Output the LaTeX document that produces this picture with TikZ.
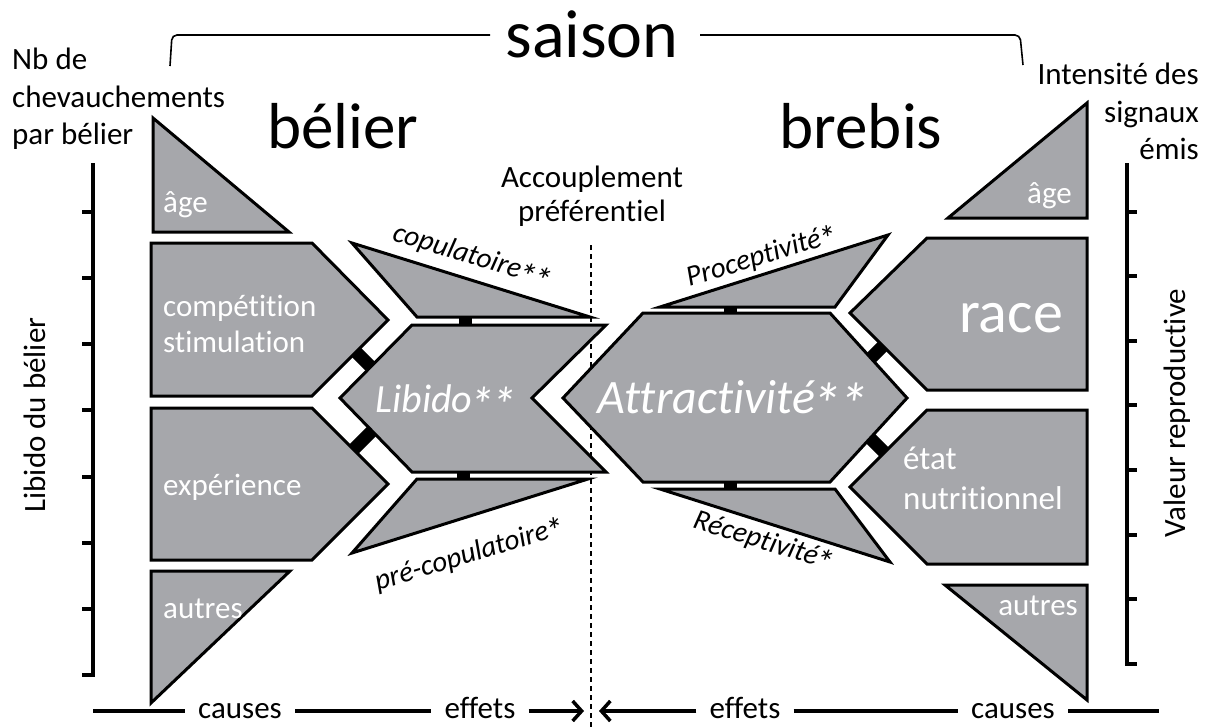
\documentclass[tikz,border=0pt]{standalone}
\usepackage{fontspec}
\setmainfont{Carlito}[Ligatures=CommonOff]
\usetikzlibrary{arrows.meta}

\definecolor{gris}{RGB}{166,167,171}
\newcommand{\etoile}{\kern-0.07em\raisebox{-0.25em}{\scalebox{1.25}{*}}}

\begin{document}
\begin{tikzpicture}[x=1pt,y=-1pt,
  facteur/.style={draw=black,fill=gris,line width=3pt},
  lien/.style={line width=13pt,black},
  axe/.style={line width=3.5pt},
  texte/.style={font=\fontsize{31}{37.5}\selectfont,inner sep=0pt},
  blanc/.style={text=white,font=\fontsize{31}{36}\selectfont,inner sep=0pt,align=left},
  titre/.style={font=\fontsize{65}{70}\selectfont,inner sep=0pt},
  penche/.style={font=\fontsize{29}{34}\selectfont\itshape,inner sep=0pt},
  bas/.style={font=\fontsize{31}{37}\selectfont,inner ysep=0pt,inner xsep=13pt,text height=14.5pt,text depth=0pt},
  fleche/.style={axe,-{Straight Barb[length=9pt,width=20pt]}}]
\useasboundingbox (0,0) rectangle (1213,728);

% titres
\node[titre,font=\fontsize{68}{72}\selectfont,anchor=base] (saison) at (592,57) {saison};
\draw[line width=1.6pt,rounded corners=5pt] (170,66) -- (172,35) -- (490,35);
\draw[line width=1.6pt,rounded corners=5pt] (700,35) -- (1020,35) -- (1023,65);
\node[titre,anchor=base] (belier) at (343,148) {bélier};
\node[titre,anchor=base] (brebis) at (861,148) {brebis};

% axes
\node[texte,align=left,anchor=north west] (nbde) at (12,48) {Nb de\\chevauchements\\par bélier};
\node[texte,align=right,anchor=north east] (intensite) at (1199,63) {Intensité des\\signaux\\émis};
\node[texte,rotate=90] (libidoaxe) at (35,415) {Libido du bélier};
\node[texte,rotate=90] (valeur) at (1177,413) {Valeur reproductive};
\draw[axe] (93,163) -- (93,675) -- (82,675);
\draw[axe] (82,212) -- (93,212) (82,278) -- (93,278) (82,344) -- (93,344) (82,410) -- (93,410)
  (82,477) -- (93,477) (82,543) -- (93,543) (82,609) -- (93,609);
\draw[axe] (1127,163) -- (1127,664) -- (1137,664);
\draw[axe] (1127,212) -- (1137,212) (1127,276) -- (1137,276) (1127,341) -- (1137,341) (1127,405) -- (1137,405)
  (1127,470) -- (1137,470) (1127,535) -- (1137,535) (1127,599) -- (1137,599);

% accouplement
\node[texte,align=center] (accouplement) at (592,196) {Accouplement\\[-3.5pt]préférentiel};
\draw[line width=1.3pt,dash pattern=on 5pt off 4pt] (591,245) -- (591,728);

% belier
\draw[facteur] (153,118) -- (153,232) -- (289,232) -- cycle;
\draw[facteur] (151,243) -- (312,243) -- (388,320) -- (312,396) -- (151,396) -- cycle;
\draw[facteur] (151,408) -- (312,408) -- (388,484) -- (312,560) -- (151,560) -- cycle;
\draw[facteur] (151,571) -- (290,571) -- (151,703) -- cycle;
\draw[facteur] (340,398) -- (412,325) -- (606,325) -- (532,398) -- (606,472) -- (412,472) -- cycle;
\draw[facteur] (352,243) -- (590,317) -- (417,317) -- cycle;
\draw[facteur] (352,553) -- (588,479) -- (417,479) -- cycle;

% brebis
\draw[facteur] (563,398) -- (643,313) -- (830,313) -- (907,398) -- (830,482) -- (643,482) -- cycle;
\draw[facteur] (660,307) -- (835,307) -- (888,235) -- cycle;
\draw[facteur] (660,489) -- (835,489) -- (890,562) -- cycle;
\draw[facteur] (948,218) -- (1087,218) -- (1087,103) -- cycle;
\draw[facteur] (850,313) -- (927,238) -- (1087,238) -- (1087,390) -- (927,390) -- cycle;
\draw[facteur] (850,487) -- (927,410) -- (1087,410) -- (1087,564) -- (927,564) -- cycle;
\draw[facteur] (945,585) -- (1087,585) -- (1087,700) -- cycle;

% liens
\coordinate (c1) at (356,352); \coordinate (l1) at (370,366);
\coordinate (e1) at (354,449); \coordinate (l2) at (372,431);
\coordinate (cp) at (465,317); \coordinate (l3) at (465,325);
\coordinate (pc) at (463,479); \coordinate (l4) at (463,472);
\coordinate (pr) at (730,307); \coordinate (a1) at (730,313);
\coordinate (re) at (730,489); \coordinate (a2) at (730,482);
\coordinate (a3) at (871,358); \coordinate (ra) at (883,346);
\coordinate (a4) at (870,438); \coordinate (et) at (884,452);
\draw[lien] (c1) -- (l1);
\draw[lien] (e1) -- (l2);
\draw[lien] (cp) -- (l3);
\draw[lien] (pc) -- (l4);
\draw[lien] (pr) -- (a1);
\draw[lien] (re) -- (a2);
\draw[lien] (a3) -- (ra);
\draw[lien] (a4) -- (et);

% etiquettes
\node[blanc,anchor=base west] (ageG) at (163,212) {âge};
\node[blanc,anchor=base west] (competition) at (163,352) {compétition\\stimulation};
\node[blanc,anchor=base west] (experience) at (163,495) {expérience};
\node[blanc,anchor=base west] (autresG) at (163,618) {autres};
\node[blanc,font=\fontsize{40}{44}\selectfont\itshape,anchor=base] (libido) at (446,412) {Libido\etoile\etoile};
\node[blanc,font=\fontsize{48}{52}\selectfont\itshape,anchor=base] (attract) at (733,413) {Attractivité\etoile\etoile};
\node[penche,rotate=-17] (copul) at (472,258) {copulatoire\etoile\etoile};
\node[penche,rotate=17] (precopul) at (470,556) {pré-copulatoire\etoile};
\node[penche,rotate=17] (procept) at (762,258) {Proceptivité\etoile};
\node[penche,rotate=-17] (recept) at (763,543) {Réceptivité\etoile};
\node[blanc,anchor=base east] (ageD) at (1072,203) {âge};
\node[blanc,font=\fontsize{60}{64}\selectfont,anchor=base] (race) at (1011,332) {race};
\node[blanc,font=\fontsize{33}{40}\selectfont,anchor=base west] (etat) at (903,509) {état\\nutritionnel};
\node[blanc,anchor=base east] (autresD) at (1078,615) {autres};

% causes / effets
\coordinate (debutG) at (93,711);
\coordinate (milieuG) at (584,711);
\coordinate (milieuD) at (599,711);
\coordinate (finD) at (1159,711);
\node[bas] (causesG) at (240,711) {causes};
\node[bas] (effetsG) at (480,711) {effets};
\node[bas] (effetsD) at (745,711) {effets};
\node[bas] (causesD) at (1013,711) {causes};
\draw[axe] (debutG) -- (causesG);
\draw[axe] (causesG) -- (effetsG);
\draw[fleche] (effetsG) -- (milieuG);
\draw[fleche] (effetsD) -- (milieuD);
\draw[axe] (effetsD) -- (causesD);
\draw[axe] (causesD) -- (finD);
\end{tikzpicture}
\end{document}
